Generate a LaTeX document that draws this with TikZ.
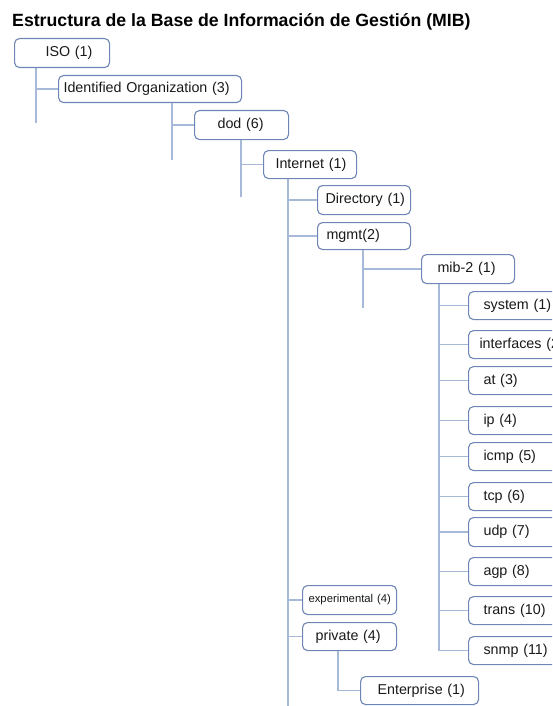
\documentclass[tikz,border=0pt]{standalone}
\usepackage{fontspec}
\setmainfont{Liberation Sans}
\definecolor{boxcol}{HTML}{6E86B6}
\definecolor{linecol}{HTML}{A6B9D8}
\tikzset{
  mibbox/.style={draw=boxcol, line width=1.1pt, rounded corners=5pt, anchor=north west,
    inner sep=0pt, align=left, font=\fontsize{14.3}{16}\selectfont, text=black!90},
  conn/.style={draw=linecol, line width=1.2pt},
}
\begin{document}
\begin{tikzpicture}[x=1pt,y=-1pt]
\useasboundingbox (0,0) rectangle (552,706);
\clip (0,0) rectangle (552,706);
\node[anchor=base west, inner sep=0pt, font=\bfseries\fontsize{17.7}{20}\selectfont] (title) at (12,27) {Estructura de la Base de Información de Gestión (MIB)};
% boxes: position = top-left; text width = box width; text indented by left padding
\node[mibbox, text width=95pt, minimum height=29pt] (iso) at (14,38) {\hspace*{31pt}ISO (1)};
\node[mibbox, text width=183pt, minimum height=27pt] (idorg) at (58,75) {\hspace*{5pt}Identified Organization (3)};
\node[mibbox, text width=94pt, minimum height=29pt] (dod) at (194,110) {\hspace*{23pt}dod (6)};
\node[mibbox, text width=93pt, minimum height=28pt] (internet) at (263,150) {\hspace*{12pt}Internet (1)};
\node[mibbox, text width=93pt, minimum height=29pt] (directory) at (317,185) {\hspace*{8pt}Directory (1)};
\node[mibbox, text width=93pt, minimum height=27pt] (mgmt) at (317,222) {\hspace*{9pt}mgmt(2)};
\node[mibbox, text width=93pt, minimum height=29pt] (mib) at (421,254) {\hspace*{16pt}mib-2 (1)};
\node[mibbox, text width=110pt, minimum height=28pt] (system) at (468,291) {\hspace*{15pt}system (1)};
\node[mibbox, text width=110pt, minimum height=28pt] (interfaces) at (468,330) {\hspace*{11pt}interfaces (2)};
\node[mibbox, text width=110pt, minimum height=28pt] (at) at (468,366) {\hspace*{15pt}at (3)};
\node[mibbox, text width=110pt, minimum height=28pt] (ip) at (468,406) {\hspace*{15pt}ip (4)};
\node[mibbox, text width=110pt, minimum height=28pt] (icmp) at (468,442) {\hspace*{15pt}icmp (5)};
\node[mibbox, text width=110pt, minimum height=28pt] (tcp) at (468,482) {\hspace*{15pt}tcp (6)};
\node[mibbox, text width=110pt, minimum height=29pt] (udp) at (468,517) {\hspace*{15pt}udp (7)};
\node[mibbox, text width=110pt, minimum height=28pt] (agp) at (468,557) {\hspace*{15pt}agp (8)};
\node[mibbox, text width=110pt, minimum height=28pt] (trans) at (468,596) {\hspace*{15pt}trans (10)};
\node[mibbox, text width=110pt, minimum height=28pt] (snmp) at (468,636) {\hspace*{15pt}snmp (11)};
\node[mibbox, text width=94pt, minimum height=29pt, font=\fontsize{11.3}{13}\selectfont] (experimental) at (302,585) {\hspace*{6pt}experimental (4)};
\node[mibbox, text width=94pt, minimum height=28pt] (private) at (302,622) {\hspace*{13pt}private (4)};
\node[mibbox, text width=118pt, minimum height=28pt] (enterprise) at (360,676) {\hspace*{17pt}Enterprise (1)};
% trunk end points
\coordinate (isoend) at (36,123);
\coordinate (idorgend) at (172,160);
\coordinate (dodend) at (241,197);
\coordinate (internetend) at (288,706);
\coordinate (mgmtend) at (363,308);
\coordinate (mibx) at (439,0);
\coordinate (privx) at (338,0);
% connectors
\draw[conn] (iso.south -| isoend) -- (isoend);
\draw[conn] (iso.south -| isoend) |- (idorg.west);
\draw[conn] (idorg.south -| idorgend) -- (idorgend);
\draw[conn] (idorg.south -| idorgend) |- (dod.west);
\draw[conn] (dod.south -| dodend) -- (dodend);
\draw[conn] (dod.south -| dodend) |- (internet.west);
\draw[conn] (internet.south -| internetend) -- (internetend);
\foreach \c in {directory,mgmt,experimental,private}
  \draw[conn] (internet.south -| internetend) |- (\c.west);
\draw[conn] (mgmt.south -| mgmtend) -- (mgmtend);
\draw[conn] (mgmt.south -| mgmtend) |- (mib.west);
\foreach \c in {system,interfaces,at,ip,icmp,tcp,udp,agp,trans,snmp}
  \draw[conn] (mib.south -| mibx) |- (\c.west);
\draw[conn] (private.south -| privx) |- (enterprise.west);
\end{tikzpicture}
\end{document}
